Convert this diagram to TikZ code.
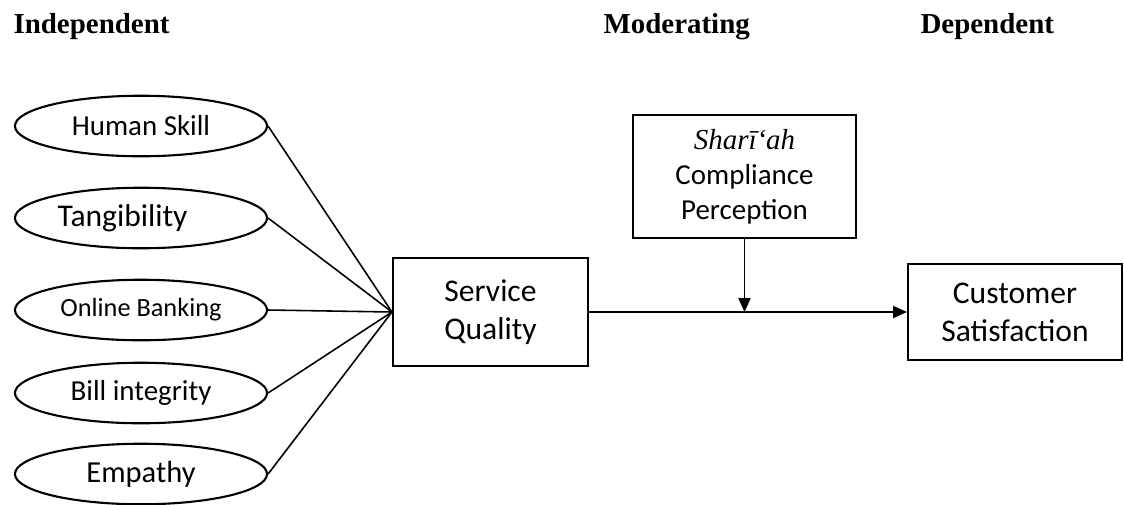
\documentclass[tikz,border=0pt]{standalone}
\usepackage{fontspec}
\setmainfont{Carlito}
\newfontfamily\timesfont{Liberation Serif}
\usepackage{tikz}
\usetikzlibrary{arrows.meta,shapes,shapes.geometric}
\usetikzlibrary{positioning}

\begin{document}
\begin{tikzpicture}[x=0.38pt, y=-0.38pt,
  factor/.style={draw, ellipse, line width=0.8pt, minimum width=95.8pt, minimum height=23pt, inner sep=0pt, font=\fontsize{11}{13}\selectfont},
  block/.style={draw, rectangle, line width=0.8pt, align=center, inner sep=0pt, font=\fontsize{12}{14.4}\selectfont},
  head/.style={anchor=base west, inner sep=0pt, font=\fontsize{11}{13}\timesfont\bfseries},
  link/.style={line width=0.6pt},
  arrow/.style={line width=0.6pt, -{Triangle[length=5.3pt,width=4.6pt]}}]

\useasboundingbox (0,0) rectangle (1124,504);

\node[head] (ind) at (13, 33) {Independent};
\node[head] (mod) at (603, 33) {Moderating};
\node[head] (dep) at (920, 33) {Dependent};

\node[factor] (hs) at (141, 126) {Human Skill};
\node[factor, font=\fontsize{12}{14}\selectfont] (tg) at (141, 218) {Tangibility\hspace*{14pt}};
\node[factor, font=\fontsize{10}{12}\selectfont] (ob) at (141, 310) {Online Banking};
\node[factor] (bi) at (141, 393) {Bill integrity};
\node[factor, font=\fontsize{11.6}{14}\selectfont] (em) at (141, 474) {Empathy};

\node[block, minimum width=74.1pt, minimum height=41pt] (sq) at (490.5, 312) {Service\\Quality};
\node[block, minimum width=84.7pt, minimum height=46.7pt, font=\fontsize{11}{13.3}\selectfont] (sh) at (744.5, 176.5) {{\timesfont\itshape Sharī‘ah}\\Compliance\\Perception};
\node[block, minimum width=81.3pt, minimum height=36.5pt] (cs) at (1015, 312) {Customer\\Satisfaction};

\path[draw] [link] (hs.east) -- (sq.west);
\path[draw] [link] (tg.east) -- (sq.west);
\path[draw] [link] (ob.east) -- (sq.west);
\path[draw] [link] (bi.east) -- (sq.west);
\path[draw] [link] (em.east) -- (sq.west);

\path[draw] [arrow] (sq.east) -- (cs.west);
\path[draw] [arrow] (sh.south) -- (sh.south |- sq.east);

\end{tikzpicture}
\end{document}
